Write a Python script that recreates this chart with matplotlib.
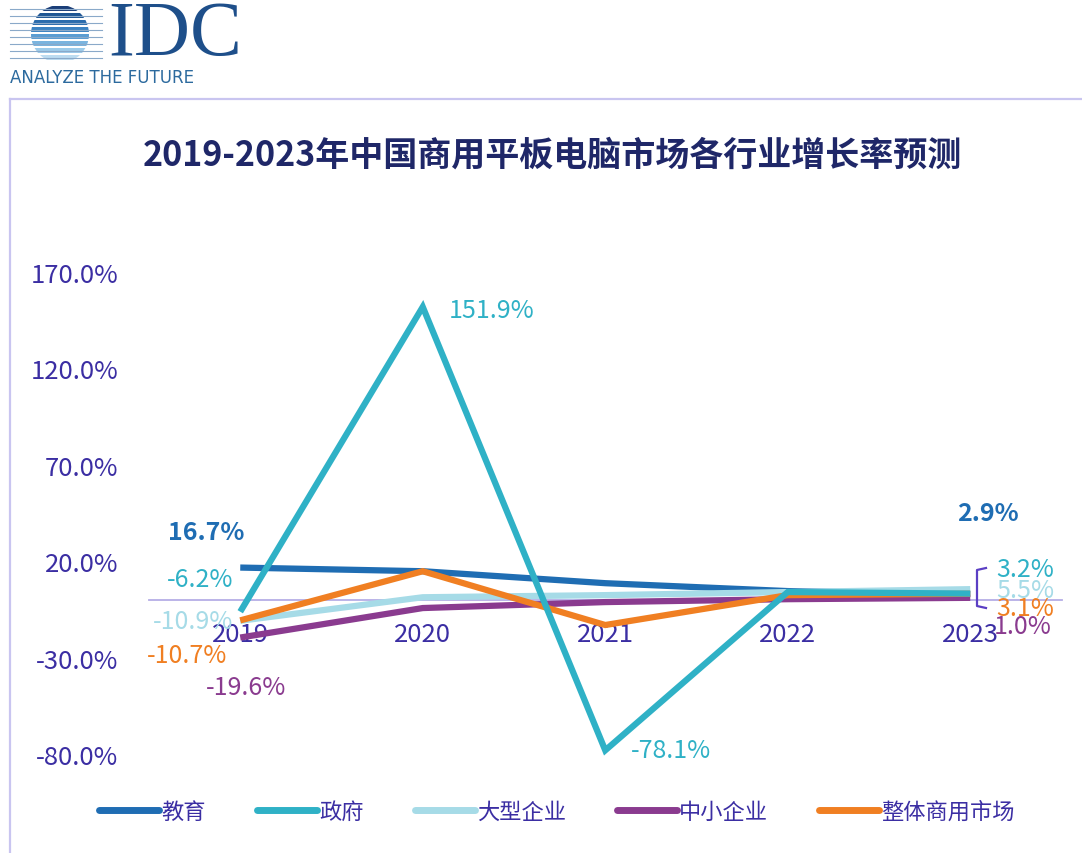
import matplotlib
matplotlib.use("Agg")
import matplotlib.pyplot as plt
from matplotlib.patches import Circle, Rectangle
from matplotlib.lines import Line2D

plt.rcParams['font.family'] = ['Noto Sans CJK SC', 'DejaVu Sans']

# ---- data ----
years = ["2019", "2020", "2021", "2022", "2023"]
series_names = ["教育", "政府", "大型企业", "中小企业", "整体商用市场"]
edu = [16.7, 14.8, 8.6, 4.5, 2.9]
gov = [-6.2, 151.9, -78.1, 4.0, 3.2]
large = [-10.9, 1.3, 2.4, 4.0, 5.5]
sme = [-19.6, -4.3, -1.2, 0.3, 1.0]
total = [-10.7, 14.8, -13.1, 2.4, 3.1]
yticks = [-80, -30, 20, 70, 120, 170]

colors = {"教育": "#1f6db3", "政府": "#2fb1c6", "大型企业": "#a6dbe7",
          "中小企业": "#8a3b8f", "整体商用市场": "#f07f22"}
values = {"教育": edu, "政府": gov, "大型企业": large, "中小企业": sme, "整体商用市场": total}
tick_color = "#3b2ea3"

W, H = 1082, 854
fig = plt.figure(figsize=(W / 100, H / 100), dpi=100)
fx = lambda px: px / W
fy = lambda py: 1 - py / H

# ---- frame ----
fig.add_artist(Line2D([fx(10), fx(1082)], [fy(100), fy(100)], color="#c9c5f0", lw=1.6, transform=fig.transFigure))
fig.add_artist(Line2D([fx(10), fx(10)], [fy(100), fy(854)], color="#c9c5f0", lw=1.6, transform=fig.transFigure))

# ---- logo ----
lax = fig.add_axes([0, fy(70), fx(110), 70 / H])
lax.set_xlim(0, 110)
lax.set_ylim(70, 0)
lax.axis("off")
circ = Circle((60, 35), 29, transform=lax.transData, facecolor="none", edgecolor="none")
lax.add_patch(circ)
stripe_cols = ["#1b3e78", "#1f5694", "#2a6cad", "#3c83c2", "#5a9dd3", "#7ab4df", "#9ccbea", "#bcdcf1"]
for k, c in enumerate(stripe_cols):
    y0 = 7 + k * 7
    lax.plot([10, 102], [y0 + 2.5, y0 + 2.5], color="#8aa9c9", lw=0.8)
    r = Rectangle((25, y0), 75, 5, facecolor=c, edgecolor="none")
    lax.add_patch(r)
    r.set_clip_path(circ)
fig.text(fx(108), fy(36), "IDC", fontsize=56, family="Liberation Serif", color="#1e4f8a",
         va="center", ha="left")
fig.text(fx(10), fy(78), "ANALYZE THE FUTURE", fontsize=12, family="DejaVu Sans", color="#2c6a9e",
         va="center", ha="left")

# ---- title ----
fig.text(fx(552), fy(155), "2019-2023年中国商用平板电脑市场各行业增长率预测", fontsize=24.5,
         fontweight="bold", color="#1f2768", ha="center", va="center")

# ---- main axes ----
ax = fig.add_axes([fx(149), fy(755), 912.5 / W, (755 - 273) / H])
x = list(range(len(years)))
order = ["教育", "大型企业", "中小企业", "整体商用市场", "政府"]
for name in order:
    ax.plot(x, values[name], color=colors[name], lw=4.5, solid_capstyle="butt",
            solid_joinstyle="miter", clip_on=False)
ax.set_xlim(-0.5, 4.5)
ax.set_ylim(-80, 170)
ax.set_yticks(yticks)
ax.set_yticklabels([f"{v:.1f}%" for v in yticks])
ax.set_xticks(x)
ax.set_xticklabels(years)
for s in ["top", "right", "left"]:
    ax.spines[s].set_visible(False)
ax.spines["bottom"].set_position(("data", 0))
ax.spines["bottom"].set_color("#b5aee6")
ax.spines["bottom"].set_linewidth(1.3)
ax.spines["bottom"].set_zorder(0)
ax.tick_params(axis="y", length=0, pad=22, labelsize=18.5, labelcolor=tick_color)
ax.tick_params(axis="x", length=0, pad=15, labelsize=18.5, labelcolor=tick_color)
ax.patch.set_alpha(0)

# ---- data labels ----
def lab(i, vals, txt, dx, dy, color, bold=False):
    ax.annotate(txt, xy=(i, vals[i]), xytext=(dx, dy), textcoords="offset pixels",
                ha="center", va="center", fontsize=18, color=color,
                fontweight="bold" if bold else "normal", annotation_clip=False)

lab(0, edu, f"{edu[0]}%", -34, 36, colors["教育"], True)
lab(0, gov, f"{gov[0]}%", -40, 33, colors["政府"])
lab(0, large, f"{large[0]}%", -47, 0, colors["大型企业"])
lab(0, total, f"{total[0]}%", -53, -35, colors["整体商用市场"])
lab(0, sme, f"{sme[0]}%", 6, -49, colors["中小企业"])
lab(1, gov, f"{gov[1]}%", 69, -3, colors["政府"])
lab(2, gov, f"{gov[2]}%", 66, 0, colors["政府"])
lab(4, edu, f"{edu[4]}%", 18, 81, colors["教育"], True)
lab(4, gov, f"{gov[4]}%", 55, 25, colors["政府"])
lab(4, large, f"{large[4]}%", 55, -1, colors["大型企业"])
lab(4, total, f"{total[4]}%", 55, -14, colors["整体商用市场"])
lab(4, sme, f"{sme[4]}%", 52, -28, colors["中小企业"])

# bracket
fig.add_artist(Line2D([fx(986), fx(977), fx(977), fx(986)], [fy(569), fy(571), fy(607), fy(609)],
                      color="#5b3fc4", lw=1.6, transform=fig.transFigure))

# ---- legend ----
leg_handles = [Line2D([0], [0], color=colors[n], lw=5, solid_capstyle="round") for n in series_names]
leg = fig.legend(leg_handles, series_names, loc="center", bbox_to_anchor=(fx(557), fy(812)),
                 ncol=5, frameon=False, fontsize=16, handlelength=2.7, handletextpad=0.1,
                 columnspacing=2.3)
for t in leg.get_texts():
    t.set_color(tick_color)

fig.savefig("out.png", dpi=100)
